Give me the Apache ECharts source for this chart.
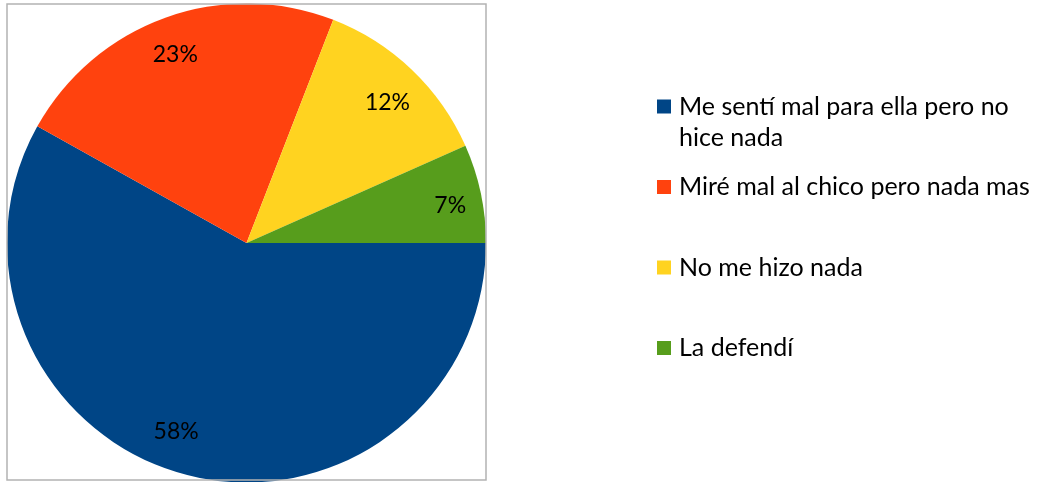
<!DOCTYPE html>
<html>
<head>
<meta charset="utf-8">
<script src="https://cdn.jsdelivr.net/npm/echarts@6/dist/echarts.min.js"></script>
<style>
html,body{margin:0;padding:0;background:#fff;}
#chart{width:1043px;height:482px;}
</style>
</head>
<body>
<div id="chart"></div>
<script>
const categories = ['Me sentí mal para ella pero no hice nada', 'Miré mal al chico pero nada mas', 'No me hizo nada', 'La defendí'];
const values = [58.1, 22.8, 12.45, 6.65];
const colors = ['#004586', '#ff420e', '#ffd320', '#579d1c'];
const legendFirstLine = 'Me sentí mal para ella pero no';
const legendSecondLine = 'hice nada';

const FONT = 'Lato';
const R = 239.5;
const CX = 246.5, CY = 243;
const labelOffsets = [[-19, -9], [-2, 4], [0, 7], [4, 5]];

const chart = echarts.init(document.getElementById('chart'));
const pieData = categories.map((name, i) => ({ name: name, value: values[i], itemStyle: { color: colors[i] } }));
const labelData = categories.map((name, i) => ({
  name: name, value: values[i],
  itemStyle: { color: 'rgba(0,0,0,0)' },
  label: { offset: labelOffsets[i] }
}));

chart.setOption({
  animation: false,
  backgroundColor: '#ffffff',
  legend: {
    orient: 'vertical',
    left: 657,
    top: 91.5,
    padding: 0,
    itemWidth: 14,
    itemHeight: 14,
    itemGap: 50.5,
    icon: 'rect',
    selectedMode: false,
    data: categories,
    formatter: function (name) { return name === categories[0] ? legendFirstLine : name; },
    textStyle: { fontFamily: FONT, fontSize: 25, lineHeight: 30, color: '#000', padding: [0, 0, 0, 3] }
  },
  graphic: [
    { type: 'rect', z: 100, silent: true, shape: { x: 7, y: 4, width: 479, height: 476 }, style: { fill: 'none', stroke: '#b3b3b3', lineWidth: 1.5 } },
    { type: 'text', left: 679, top: 125, style: { text: legendSecondLine, font: '25px ' + FONT, fill: '#000' } }
  ],
  series: [
    {
      type: 'pie',
      center: [CX, CY],
      radius: [0, R],
      startAngle: 0,
      clockwise: true,
      silent: true,
      label: { show: false },
      labelLine: { show: false },
      emphasis: { disabled: true },
      data: pieData
    },
    {
      type: 'pie',
      center: [CX, CY],
      radius: [R * 0.68, R],
      startAngle: 0,
      clockwise: true,
      silent: true,
      z: 5,
      legendHoverLink: false,
      label: {
        show: true,
        position: 'inside',
        fontFamily: FONT,
        fontSize: 23,
        color: '#000',
        formatter: function (p) { return Math.round(p.percent) + '%'; }
      },
      labelLine: { show: false },
      emphasis: { disabled: true },
      data: labelData
    }
  ]
});
</script>
</body>
</html>
